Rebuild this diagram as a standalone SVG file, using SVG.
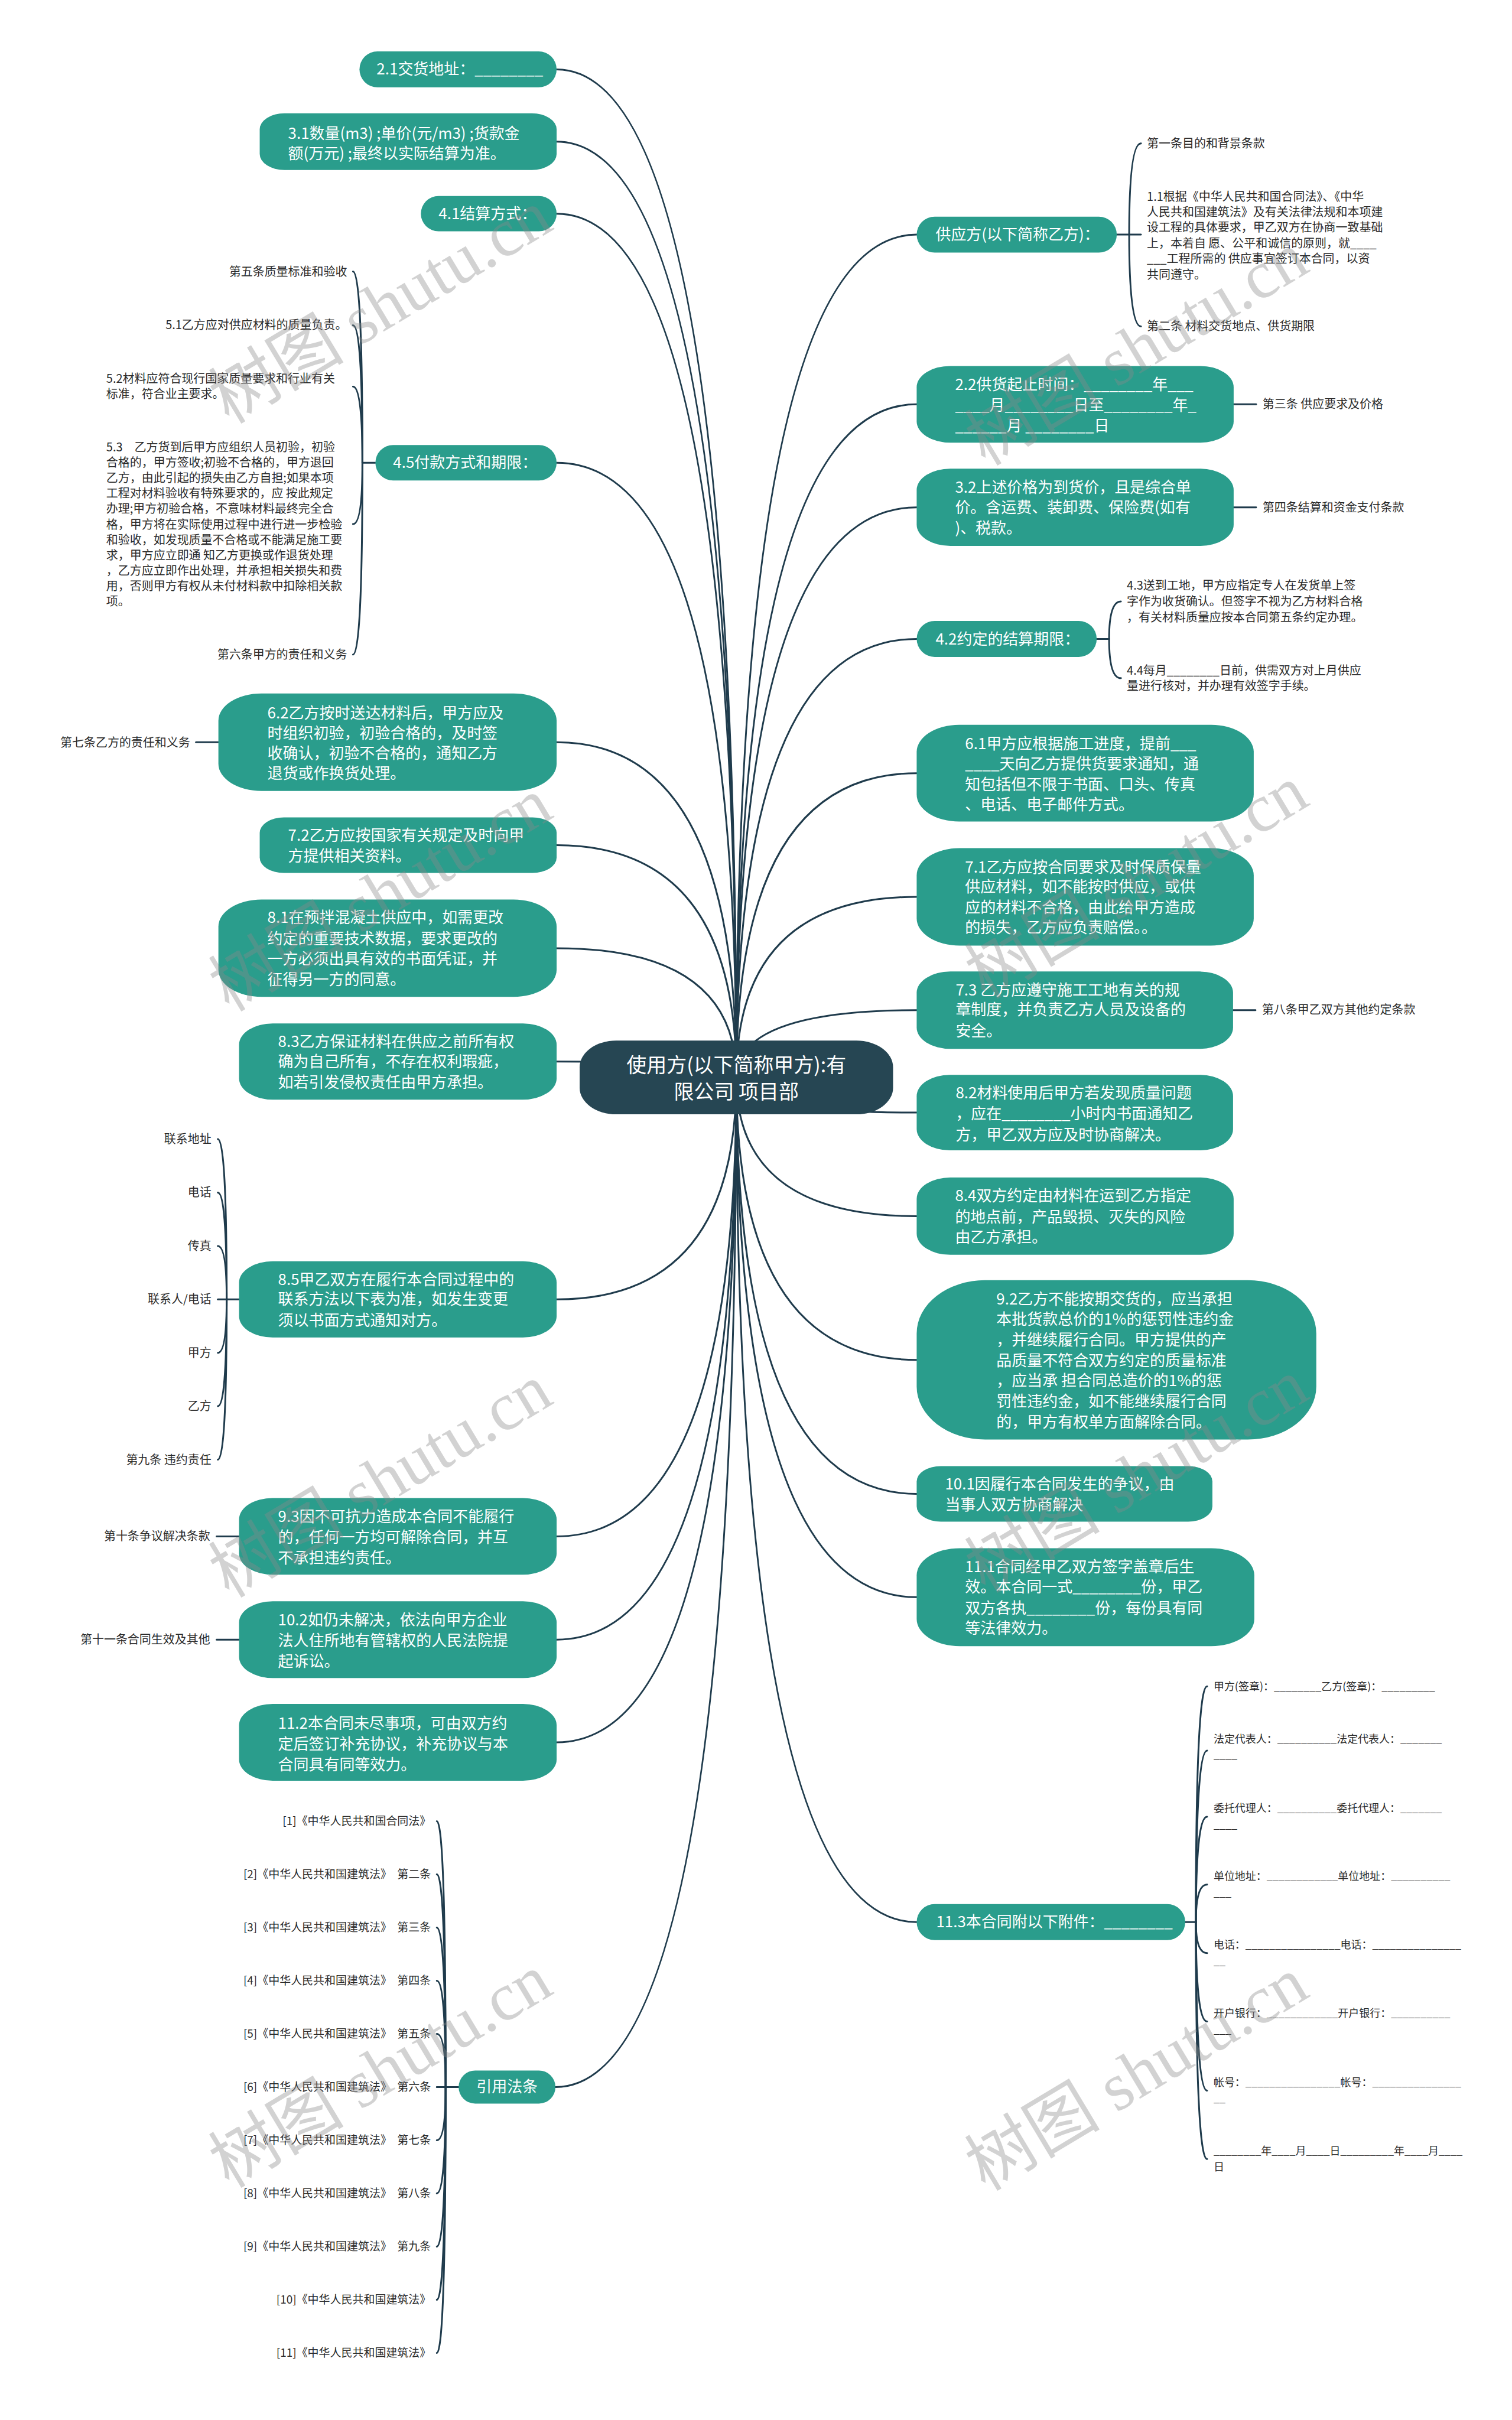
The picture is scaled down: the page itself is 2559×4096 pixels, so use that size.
<svg xmlns="http://www.w3.org/2000/svg" width="2559" height="4096" viewBox="0 0 2559 4096">
<style>
.n{fill:#2a9d8c}
.c{fill:#264653}
.t{font-family:"Noto Sans CJK SC","Noto Sans",sans-serif;font-size:26px;fill:#ffffff}
.tc{font-family:"Noto Sans CJK SC","Noto Sans",sans-serif;font-size:34px;fill:#ffffff;text-anchor:middle}
.l{font-family:"Noto Sans CJK SC","Noto Sans",sans-serif;font-size:20px;fill:#2b2b2b}
.ls{font-family:"Noto Sans CJK SC","Noto Sans",sans-serif;font-size:18px;fill:#2b2b2b}
.lr{font-family:"Noto Sans CJK SC","Noto Sans",sans-serif;font-size:19px;fill:#2b2b2b;text-anchor:end}
.e{text-anchor:end}
.k{fill:none;stroke:#1f3b4c;stroke-width:3;stroke-linecap:round}
.wm{font-family:"Liberation Serif","Noto Sans CJK SC",serif;font-size:115px;fill:#8a8a8a;opacity:0.38;text-anchor:middle}
</style>
<rect x="0" y="0" width="2559" height="4096" fill="#ffffff"/>
<g transform="scale(0.999)">
<g id="connectors" class="k">
<path d="M1247.5 1826Q1247.5 117.5 943 117.5"/>
<path d="M1247.5 1826Q1247.5 240 943 240"/>
<path d="M1247.5 1826Q1247.5 362 943 362"/>
<path d="M1247.5 1826Q1247.5 784 943 784"/>
<path d="M1247.5 1826Q1247.5 1257.5 943 1257.5"/>
<path d="M1247.5 1826Q1247.5 1432 943 1432"/>
<path d="M1247.5 1826Q1247.5 1606.5 943 1606.5"/>
<path d="M1247.5 1826Q1247.5 1798.5 943 1798.5"/>
<path d="M1247.5 1826Q1247.5 2201.5 943 2201.5"/>
<path d="M1247.5 1826Q1247.5 2603 943 2603"/>
<path d="M1247.5 1826Q1247.5 2778 943 2778"/>
<path d="M1247.5 1826Q1247.5 2952 943 2952"/>
<path d="M1247.5 1826Q1247.5 3536 941 3536"/>
<path d="M1247.5 1826Q1247.5 397.5 1553 397.5"/>
<path d="M1247.5 1826Q1247.5 685 1553 685"/>
<path d="M1247.5 1826Q1247.5 859.5 1553 859.5"/>
<path d="M1247.5 1826Q1247.5 1082.5 1553 1082.5"/>
<path d="M1247.5 1826Q1247.5 1310 1553 1310"/>
<path d="M1247.5 1826Q1247.5 1519.5 1553 1519.5"/>
<path d="M1247.5 1826Q1247.5 1711.5 1553 1711.5"/>
<path d="M1247.5 1826Q1247.5 1885 1553 1885"/>
<path d="M1247.5 1826Q1247.5 2060.5 1553 2060.5"/>
<path d="M1247.5 1826Q1247.5 2304 1553 2304"/>
<path d="M1247.5 1826Q1247.5 2531 1553 2531"/>
<path d="M1247.5 1826Q1247.5 2706 1553 2706"/>
<path d="M1247.5 1826Q1247.5 3256.5 1553 3256.5"/>
<!-- 4.5 bracket -->
<path d="M636 784H614"/>
<path d="M614 784Q614 460 598 460"/>
<path d="M614 784Q614 551 598 551"/>
<path d="M614 784Q614 655 598 655"/>
<path d="M614 784Q614 888 598 888"/>
<path d="M614 784Q614 1109 598 1109"/>
<!-- stubs left -->
<path d="M370 1257.5H332"/>
<path d="M405 2603H367"/>
<path d="M405 2778H367"/>
<!-- 8.5 bracket -->
<path d="M405 2201.5H369"/>
<path d="M384 2201.5Q384 1930 369 1930"/>
<path d="M384 2201.5Q384 2020.5 369 2020.5"/>
<path d="M384 2201.5Q384 2111 369 2111"/>
<path d="M384 2201.5Q384 2292 369 2292"/>
<path d="M384 2201.5Q384 2382.5 369 2382.5"/>
<path d="M384 2201.5Q384 2473 369 2473"/>
<!-- 引用法条 bracket -->
<path d="M777 3536H740"/>
<path d="M755 3536Q755 3085.5 740 3085.5"/>
<path d="M755 3536Q755 3175.6 740 3175.6"/>
<path d="M755 3536Q755 3265.7 740 3265.7"/>
<path d="M755 3536Q755 3355.8 740 3355.8"/>
<path d="M755 3536Q755 3445.9 740 3445.9"/>
<path d="M755 3536Q755 3626.1 740 3626.1"/>
<path d="M755 3536Q755 3716.2 740 3716.2"/>
<path d="M755 3536Q755 3806.3 740 3806.3"/>
<path d="M755 3536Q755 3896.4 740 3896.4"/>
<path d="M755 3536Q755 3986.5 740 3986.5"/>
<!-- R1 bracket -->
<path d="M1892 397.5H1933"/>
<path d="M1913 397.5Q1913 243 1933 243"/>
<path d="M1913 397.5Q1913 553 1933 553"/>
<!-- right stubs -->
<path d="M2090 685H2128"/>
<path d="M2090 859.5H2128"/>
<path d="M2089 1711.5H2127"/>
<!-- R4 bracket -->
<path d="M1858 1082.5H1879"/>
<path d="M1879 1082.5Q1879 1019 1899 1019"/>
<path d="M1879 1082.5Q1879 1149 1899 1149"/>
<!-- R13 bracket -->
<path d="M2008 3256.5H2026"/>
<path d="M2026 3256.5Q2026 2857 2045 2857"/>
<path d="M2026 3256.5Q2026 2966 2045 2966"/>
<path d="M2026 3256.5Q2026 3078 2045 3078"/>
<path d="M2026 3256.5Q2026 3193 2045 3193"/>
<path d="M2026 3256.5Q2026 3309 2045 3309"/>
<path d="M2026 3256.5Q2026 3425 2045 3425"/>
<path d="M2026 3256.5Q2026 3542 2045 3542"/>
<path d="M2026 3256.5Q2026 3658 2045 3658"/>
</g>

<g id="center">
<rect class="c" x="982" y="1763" width="531" height="125" rx="62" ry="45"/>
<text class="tc"><tspan x="1247.5" y="1817">使用方(以下简称甲方):有</tspan><tspan x="1247.5" y="1862">限公司 项目部</tspan></text>
</g>

<g id="n-2-1"><rect class="n" x="609" y="87" width="334" height="61" rx="30.5"/><text class="t" x="638" y="126.5">2.1交货地址：________</text></g>
<g id="n-3-1"><rect class="n" x="440" y="192" width="503" height="96" rx="42" ry="27"/><text class="t"><tspan x="488" y="235">3.1数量(m3) ;单价(元/m3) ;货款金</tspan><tspan x="488" y="269">额(万元) ;最终以实际结算为准。</tspan></text></g>
<g id="n-4-1"><rect class="n" x="713" y="332" width="230" height="60" rx="30"/><text class="t" x="743" y="371">4.1结算方式：</text></g>
<g id="n-4-5"><rect class="n" x="636" y="754" width="307" height="60" rx="30"/><text class="t" x="666" y="793">4.5付款方式和期限：</text></g>
<g id="leaf-4-5">
<text class="l e" x="588" y="467">第五条质量标准和验收</text>
<text class="l e" x="588" y="558">5.1乙方应对供应材料的质量负责。</text>
<text class="l"><tspan x="180" y="649">5.2材料应符合现行国家质量要求和行业有关</tspan><tspan x="180" y="675">标准，符合业主要求。</tspan></text>
<text class="l"><tspan x="180" y="764.5">5.3　乙方货到后甲方应组织人员初验，初验</tspan><tspan x="180" y="790.7">合格的，甲方签收;初验不合格的，甲方退回</tspan><tspan x="180" y="816.9">乙方，由此引起的损失由乙方自担;如果本项</tspan><tspan x="180" y="843.1">工程对材料验收有特殊要求的，应  按此规定</tspan><tspan x="180" y="869.3">办理;甲方初验合格，不意味材料最终完全合</tspan><tspan x="180" y="895.5">格，甲方将在实际使用过程中进行进一步检验</tspan><tspan x="180" y="921.7">和验收，如发现质量不合格或不能满足施工要</tspan><tspan x="180" y="947.9">求，甲方应立即通  知乙方更换或作退货处理</tspan><tspan x="180" y="974.1">，乙方应立即作出处理，并承担相关损失和费</tspan><tspan x="180" y="1000.3">用，否则甲方有权从未付材料款中扣除相关款</tspan><tspan x="180" y="1026.5">项。</tspan></text>
<text class="l e" x="588" y="1116">第六条甲方的责任和义务</text>
</g>
<g id="n-6-2"><rect class="n" x="370" y="1175" width="573" height="165" rx="73" ry="46"/><text class="t"><tspan x="453" y="1217">6.2乙方按时送达材料后，甲方应及</tspan><tspan x="453" y="1251">时组织初验，初验合格的，及时签</tspan><tspan x="453" y="1285">收确认，初验不合格的，通知乙方</tspan><tspan x="453" y="1319">退货或作换货处理。</tspan></text></g>
<g id="leaf-6-2"><text class="l e" x="322" y="1265">第七条乙方的责任和义务</text></g>
<g id="n-7-2"><rect class="n" x="440" y="1385" width="503" height="94" rx="41" ry="26"/><text class="t"><tspan x="488" y="1424">7.2乙方应按国家有关规定及时向甲</tspan><tspan x="488" y="1459">方提供相关资料。</tspan></text></g>
<g id="n-8-1"><rect class="n" x="370" y="1524" width="573" height="165" rx="73" ry="46"/><text class="t"><tspan x="453" y="1564">8.1在预拌混凝土供应中，如需更改</tspan><tspan x="453" y="1600">约定的重要技术数据，要求更改的</tspan><tspan x="453" y="1634">一方必须出具有效的书面凭证，并</tspan><tspan x="453" y="1669">征得另一方的同意。</tspan></text></g>
<g id="n-8-3"><rect class="n" x="405" y="1734" width="538" height="129" rx="57" ry="36"/><text class="t"><tspan x="471" y="1774">8.3乙方保证材料在供应之前所有权</tspan><tspan x="471" y="1808">确为自己所有，不存在权利瑕疵，</tspan><tspan x="471" y="1843">如若引发侵权责任由甲方承担。</tspan></text></g>
<g id="n-8-5"><rect class="n" x="405" y="2137" width="538" height="129" rx="57" ry="36"/><text class="t"><tspan x="471" y="2177">8.5甲乙双方在履行本合同过程中的</tspan><tspan x="471" y="2210">联系方法以下表为准，如发生变更</tspan><tspan x="471" y="2246">须以书面方式通知对方。</tspan></text></g>
<g id="leaf-8-5">
<text class="l e" x="358" y="1937">联系地址</text>
<text class="l e" x="358" y="2027.5">电话</text>
<text class="l e" x="358" y="2118">传真</text>
<text class="l e" x="358" y="2208.5">联系人/电话</text>
<text class="l e" x="358" y="2299">甲方</text>
<text class="l e" x="358" y="2389.5">乙方</text>
<text class="l e" x="358" y="2480">第九条 违约责任</text>
</g>
<g id="n-9-3"><rect class="n" x="405" y="2538" width="538" height="130" rx="57" ry="36"/><text class="t"><tspan x="471" y="2579">9.3因不可抗力造成本合同不能履行</tspan><tspan x="471" y="2614">的，任何一方均可解除合同，并互</tspan><tspan x="471" y="2649">不承担违约责任。</tspan></text></g>
<g id="leaf-9-3"><text class="l e" x="356" y="2610">第十条争议解决条款</text></g>
<g id="n-10-2"><rect class="n" x="405" y="2713" width="538" height="130" rx="57" ry="36"/><text class="t"><tspan x="471" y="2754">10.2如仍未解决，依法向甲方企业</tspan><tspan x="471" y="2789">法人住所地有管辖权的人民法院提</tspan><tspan x="471" y="2824">起诉讼。</tspan></text></g>
<g id="leaf-10-2"><text class="l e" x="356" y="2785">第十一条合同生效及其他</text></g>
<g id="n-11-2"><rect class="n" x="405" y="2887" width="538" height="130" rx="57" ry="36"/><text class="t"><tspan x="471" y="2929">11.2本合同未尽事项，可由双方约</tspan><tspan x="471" y="2964">定后签订补充协议，补充协议与本</tspan><tspan x="471" y="2999">合同具有同等效力。</tspan></text></g>
<g id="n-law"><rect class="n" x="777" y="3508" width="164" height="56" rx="28"/><text class="t" x="859" y="3545" text-anchor="middle">引用法条</text></g>
<g id="leaf-law">
<text class="lr" x="730" y="3092.2">[1]《中华人民共和国合同法》</text>
<text class="lr" x="730" y="3182.3">[2]《中华人民共和国建筑法》　第二条</text>
<text class="lr" x="730" y="3272.4">[3]《中华人民共和国建筑法》　第三条</text>
<text class="lr" x="730" y="3362.5">[4]《中华人民共和国建筑法》　第四条</text>
<text class="lr" x="730" y="3452.6">[5]《中华人民共和国建筑法》　第五条</text>
<text class="lr" x="730" y="3542.7">[6]《中华人民共和国建筑法》　第六条</text>
<text class="lr" x="730" y="3632.8">[7]《中华人民共和国建筑法》　第七条</text>
<text class="lr" x="730" y="3722.9">[8]《中华人民共和国建筑法》　第八条</text>
<text class="lr" x="730" y="3813">[9]《中华人民共和国建筑法》　第九条</text>
<text class="lr" x="730" y="3903.1">[10]《中华人民共和国建筑法》</text>
<text class="lr" x="730" y="3993.2">[11]《中华人民共和国建筑法》</text>
</g>

<g id="n-supplier"><rect class="n" x="1553" y="367" width="339" height="61" rx="30.5"/><text class="t" x="1585" y="406.5">供应方(以下简称乙方)：</text></g>
<g id="leaf-supplier">
<text class="l" x="1943" y="250">第一条目的和背景条款</text>
<text class="l"><tspan x="1943" y="340">1.1根据《中华人民共和国合同法》、《中华</tspan><tspan x="1943" y="366.4">人民共和国建筑法》及有关法律法规和本项建</tspan><tspan x="1943" y="392.8">设工程的具体要求，甲乙双方在协商一致基础</tspan><tspan x="1943" y="419.2">上，本着自  愿、公平和诚信的原则，就____</tspan><tspan x="1943" y="445.6">___工程所需的 供应事宜签订本合同，以资</tspan><tspan x="1943" y="472">共同遵守。</tspan></text>
<text class="l" x="1943" y="560">第二条 材料交货地点、供货期限</text>
</g>
<g id="n-2-2"><rect class="n" x="1553" y="620" width="537" height="130" rx="57" ry="36"/><text class="t"><tspan x="1618" y="661">2.2供货起止时间：________年___</tspan><tspan x="1618" y="696">____月________日至________年_</tspan><tspan x="1618" y="731">______月 ________日</tspan></text></g>
<g id="leaf-2-2"><text class="l" x="2139" y="692">第三条 供应要求及价格</text></g>
<g id="n-3-2"><rect class="n" x="1553" y="794" width="537" height="131" rx="57" ry="36"/><text class="t"><tspan x="1618" y="835">3.2上述价格为到货价，且是综合单</tspan><tspan x="1618" y="869">价。含运费、装卸费、保险费(如有</tspan><tspan x="1618" y="904">)、税款。</tspan></text></g>
<g id="leaf-3-2"><text class="l" x="2139" y="867">第四条结算和资金支付条款</text></g>
<g id="n-4-2"><rect class="n" x="1553" y="1052" width="305" height="61" rx="30.5"/><text class="t" x="1585" y="1092">4.2约定的结算期限：</text></g>
<g id="leaf-4-2">
<text class="l"><tspan x="1909" y="999">4.3送到工地，甲方应指定专人在发货单上签</tspan><tspan x="1909" y="1026">字作为收货确认。但签字不视为乙方材料合格</tspan><tspan x="1909" y="1053">，有关材料质量应按本合同第五条约定办理。</tspan></text>
<text class="l"><tspan x="1909" y="1143">4.4每月________日前，供需双方对上月供应</tspan><tspan x="1909" y="1169">量进行核对，并办理有效签字手续。</tspan></text>
</g>
<g id="n-6-1"><rect class="n" x="1553" y="1228" width="571" height="164" rx="72" ry="46"/><text class="t"><tspan x="1635" y="1269">6.1甲方应根据施工进度，提前___</tspan><tspan x="1635" y="1303">____天向乙方提供货要求通知，通</tspan><tspan x="1635" y="1338">知包括但不限于书面、口头、传真</tspan><tspan x="1635" y="1372">、电话、电子邮件方式。</tspan></text></g>
<g id="n-7-1"><rect class="n" x="1553" y="1437" width="571" height="165" rx="73" ry="46"/><text class="t"><tspan x="1635" y="1478">7.1乙方应按合同要求及时保质保量</tspan><tspan x="1635" y="1512">供应材料，如不能按时供应，或供</tspan><tspan x="1635" y="1547">应的材料不合格，由此给甲方造成</tspan><tspan x="1635" y="1581">的损失，乙方应负责赔偿。。</tspan></text></g>
<g id="n-7-3"><rect class="n" x="1553" y="1646" width="536" height="131" rx="57" ry="36"/><text class="t"><tspan x="1619" y="1687">7.3 乙方应遵守施工工地有关的规</tspan><tspan x="1619" y="1720">章制度，并负责乙方人员及设备的</tspan><tspan x="1619" y="1756">安全。</tspan></text></g>
<g id="leaf-7-3"><text class="l" x="2138" y="1718">第八条甲乙双方其他约定条款</text></g>
<g id="n-8-2"><rect class="n" x="1553" y="1821" width="536" height="128" rx="56" ry="36"/><text class="t"><tspan x="1619" y="1861">8.2材料使用后甲方若发现质量问题</tspan><tspan x="1619" y="1896">，应在________小时内书面通知乙</tspan><tspan x="1619" y="1932">方，甲乙双方应及时协商解决。</tspan></text></g>
<g id="n-8-4"><rect class="n" x="1553" y="1995" width="537" height="131" rx="57" ry="36"/><text class="t"><tspan x="1618" y="2035">8.4双方约定由材料在运到乙方指定</tspan><tspan x="1618" y="2071">的地点前，产品毁损、灭失的风险</tspan><tspan x="1618" y="2105">由乙方承担。</tspan></text></g>
<g id="n-9-2"><rect class="n" x="1553" y="2169" width="677" height="270" rx="116" ry="90"/><text class="t"><tspan x="1688" y="2210">9.2乙方不能按期交货的，应当承担</tspan><tspan x="1688" y="2244.7">本批货款总价的1%的惩罚性违约金</tspan><tspan x="1688" y="2279.4">，并继续履行合同。甲方提供的产</tspan><tspan x="1688" y="2314.1">品质量不符合双方约定的质量标准</tspan><tspan x="1688" y="2348.8">，应当承  担合同总造价的1%的惩</tspan><tspan x="1688" y="2383.5">罚性违约金，如不能继续履行合同</tspan><tspan x="1688" y="2418.2">的，甲方有权单方面解除合同。</tspan></text></g>
<g id="n-10-1"><rect class="n" x="1553" y="2484" width="501" height="94" rx="41" ry="26"/><text class="t"><tspan x="1601" y="2524">10.1因履行本合同发生的争议，由</tspan><tspan x="1601" y="2559">当事人双方协商解决</tspan></text></g>
<g id="n-11-1"><rect class="n" x="1553" y="2623" width="572" height="166" rx="73" ry="46"/><text class="t"><tspan x="1635" y="2664">11.1合同经甲乙双方签字盖章后生</tspan><tspan x="1635" y="2698">效。本合同一式________份，甲乙</tspan><tspan x="1635" y="2734">双方各执________份，每份具有同</tspan><tspan x="1635" y="2768">等法律效力。</tspan></text></g>
<g id="n-11-3"><rect class="n" x="1553" y="3226" width="455" height="61" rx="30.5"/><text class="t" x="1586" y="3265.5">11.3本合同附以下附件：________</text></g>
<g id="leaf-11-3">
<text class="ls" x="2056" y="2863.5">甲方(签章)：________乙方(签章)：_________</text>
<text class="ls"><tspan x="2056" y="2952.5">法定代表人：__________法定代表人：_______</tspan><tspan x="2056" y="2980">____</tspan></text>
<text class="ls"><tspan x="2056" y="3070.5">委托代理人：__________委托代理人：_______</tspan><tspan x="2056" y="3098">____</tspan></text>
<text class="ls"><tspan x="2056" y="3185.5">单位地址：____________单位地址：__________</tspan><tspan x="2056" y="3213">___</tspan></text>
<text class="ls"><tspan x="2056" y="3301.5">电话：________________电话：_______________</tspan><tspan x="2056" y="3329">__</tspan></text>
<text class="ls"><tspan x="2056" y="3417.5">开户银行：____________开户银行：__________</tspan><tspan x="2056" y="3445">___</tspan></text>
<text class="ls"><tspan x="2056" y="3534.5">帐号：________________帐号：_______________</tspan><tspan x="2056" y="3562">__</tspan></text>
<text class="ls"><tspan x="2056" y="3650.5">________年____月____日_________年____月____</tspan><tspan x="2056" y="3678">日</tspan></text>
</g>

<g id="watermarks">
<text class="wm" transform="translate(644 519) rotate(-31)" y="40">树图 shutu.cn</text>
<text class="wm" transform="translate(1925 590) rotate(-31)" y="40">树图 shutu.cn</text>
<text class="wm" transform="translate(644 1515) rotate(-31)" y="40">树图 shutu.cn</text>
<text class="wm" transform="translate(1925 1494) rotate(-31)" y="40">树图 shutu.cn</text>
<text class="wm" transform="translate(644 2508) rotate(-31)" y="40">树图 shutu.cn</text>
<text class="wm" transform="translate(1925 2500) rotate(-31)" y="40">树图 shutu.cn</text>
<text class="wm" transform="translate(644 3508) rotate(-31)" y="40">树图 shutu.cn</text>
<text class="wm" transform="translate(1925 3513) rotate(-31)" y="40">树图 shutu.cn</text>
</g>
</g>
</svg>
